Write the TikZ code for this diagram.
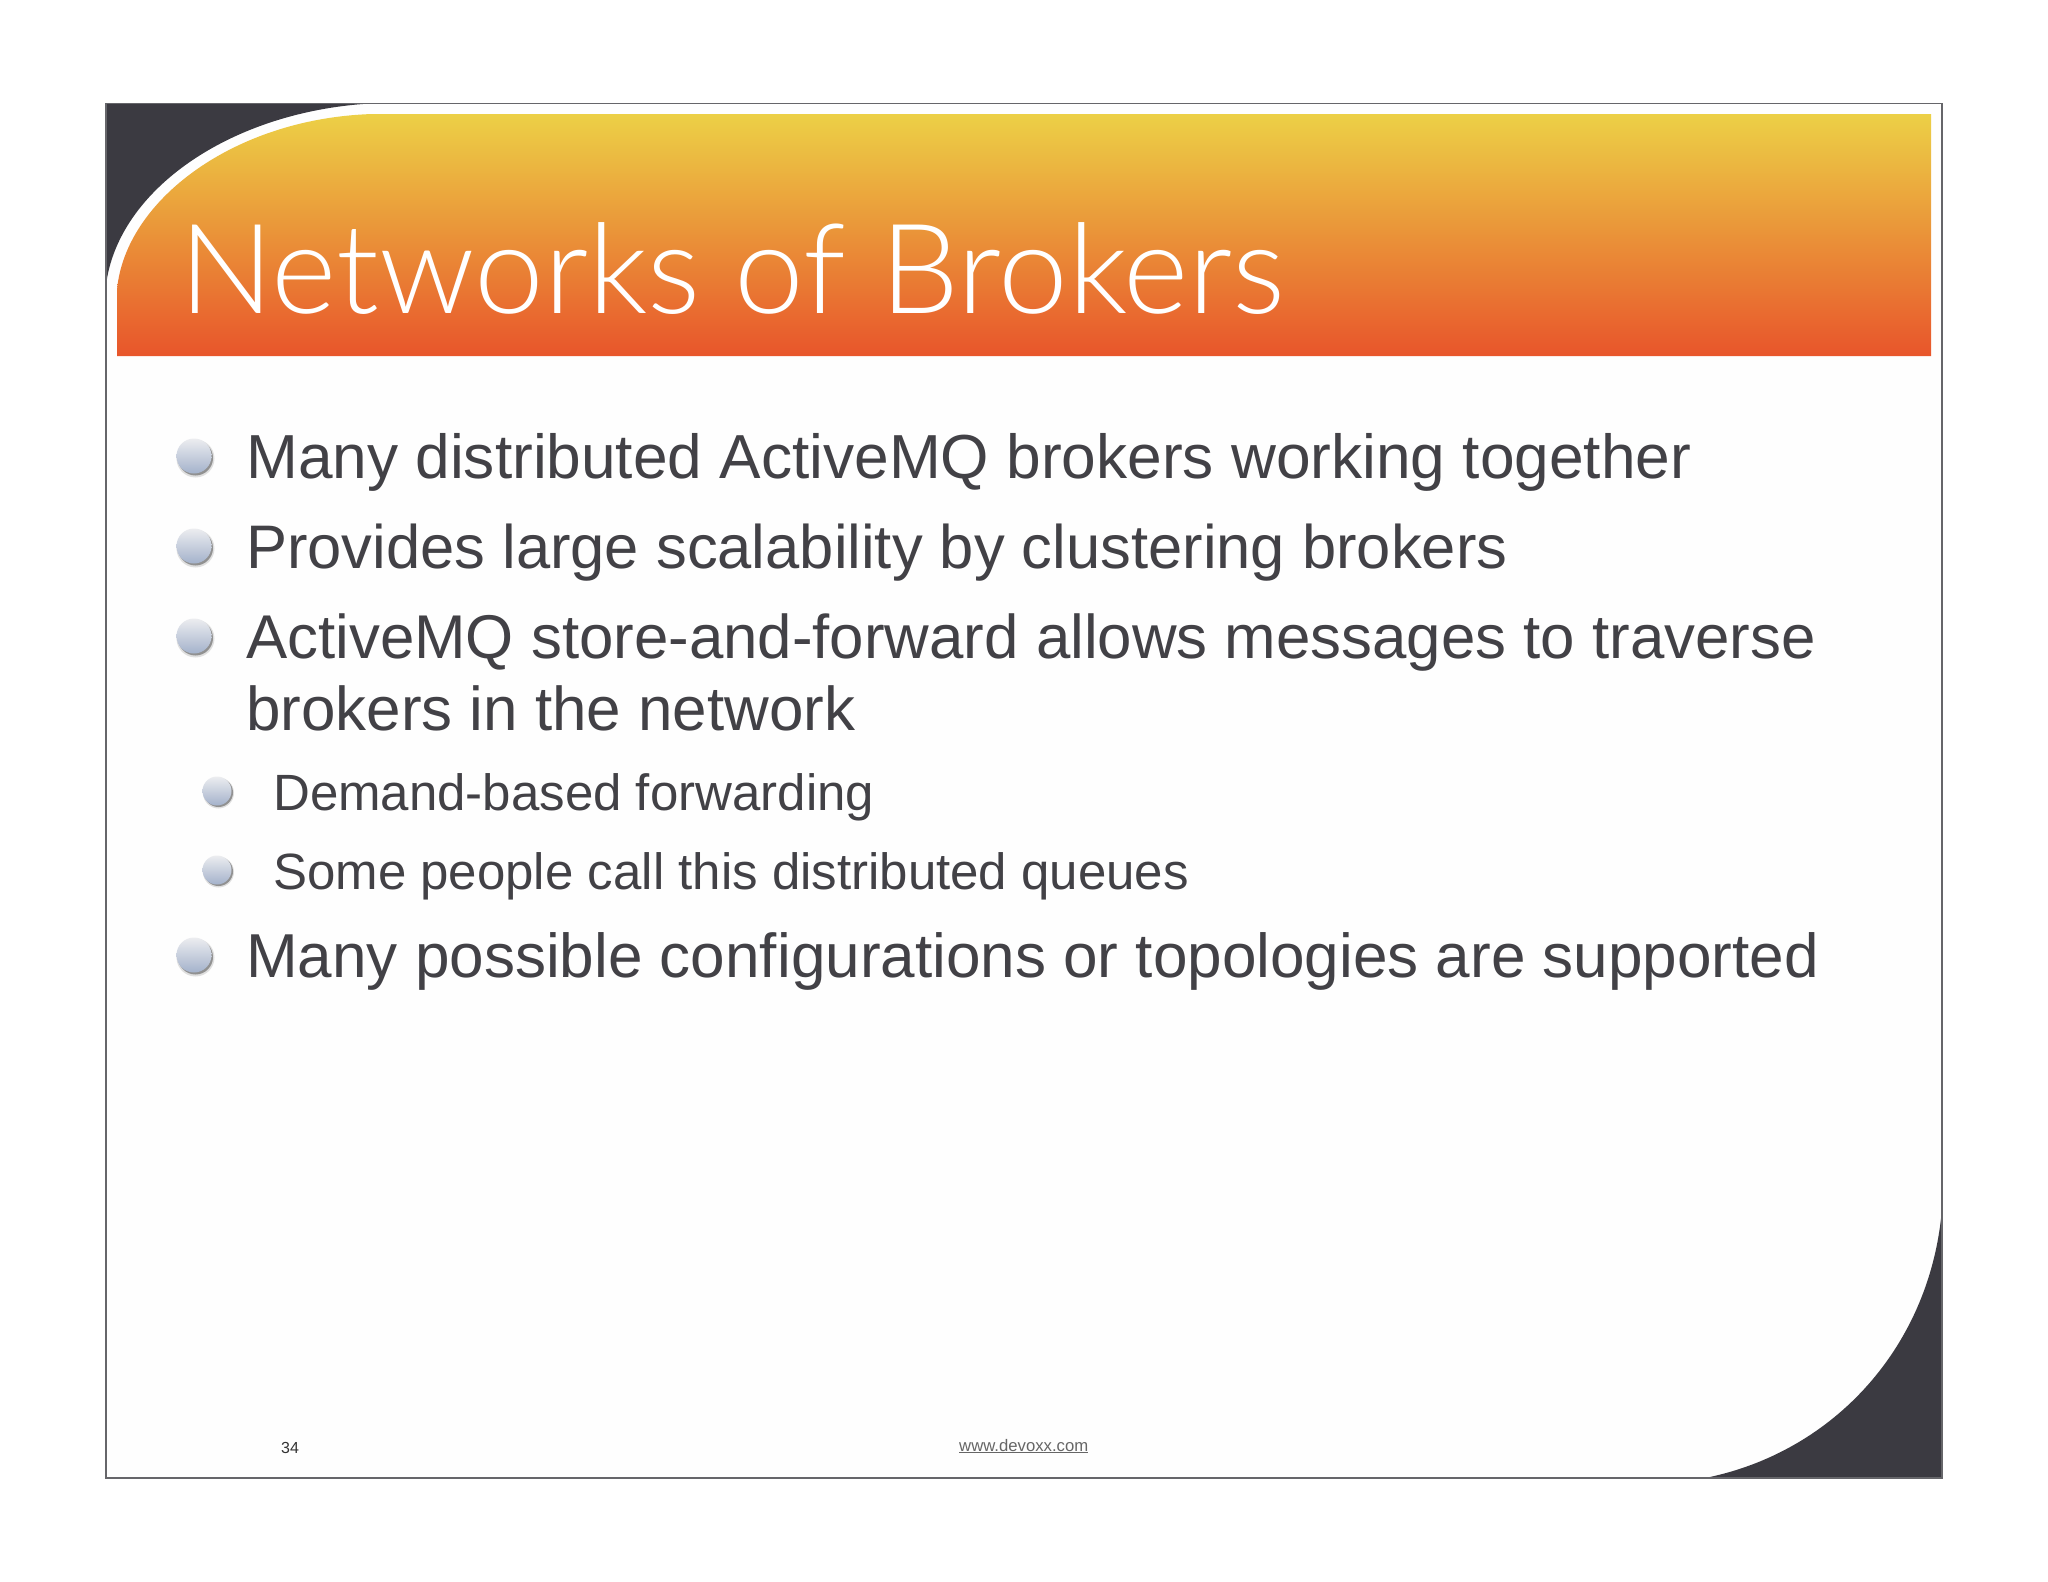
\documentclass[tikz,border=0pt]{standalone}
\usepackage{fontspec}
\setmainfont{Liberation Sans}
\newfontfamily\titlefont{Lato Light}
\usetikzlibrary{calc}
\definecolor{pagebg}{HTML}{FEFEFE}
\definecolor{corner}{HTML}{3B3A41}
\definecolor{framec}{HTML}{66666A}
\definecolor{bodyc}{HTML}{424146}
\definecolor{gradtop}{HTML}{ECD046}
\definecolor{gradmid}{HTML}{E9963C}
\definecolor{gradbot}{HTML}{E8552B}
\definecolor{balltop}{HTML}{ECEDF0}
\definecolor{ballbot}{HTML}{A4B2CB}
\tikzset{
  x=1pt,y=-1pt,
  mainitem/.style={anchor=base west,inner sep=0pt,text=bodyc,font=\fontsize{#1}{62}\selectfont},
  mainitem/.default=62,
  subitem/.style={anchor=base west,inner sep=0pt,text=bodyc,font=\fontsize{51}{51}\selectfont},
  ballshadow/.style={fill=black,draw=none},
  ball/.style={top color=balltop,bottom color=ballbot,draw=none},
}
\newcommand{\bigball}[2]{%
  \fill[ballshadow,opacity=.12] (#1+1.5,#2+2.5) circle[radius=19];
  \fill[ballshadow,opacity=.35] (#1+1.5,#2+2) circle[radius=17.5];
  \shade[ball] (#1,#2) circle[radius=17.5];}
\newcommand{\smallball}[2]{%
  \fill[ballshadow,opacity=.12] (#1+1.5,#2+2) circle[radius=15.5];
  \fill[ballshadow,opacity=.35] (#1+1.5,#2+1.5) circle[radius=14.5];
  \shade[ball] (#1,#2) circle[radius=14.5];}
\begin{document}
\begin{tikzpicture}
\useasboundingbox (0,0) rectangle (2048,1582);
\fill[white] (0,0) rectangle (2048,1582);
\fill[pagebg] (106,103.5) rectangle (1942,1478);
% corners
\fill[corner] (106,103.5) -- (370,103.5) .. controls (230,112) and (118,190) .. (106,285) -- cycle;
\fill[corner] (1942,1478) -- (1705,1478) .. controls (1835,1452) and (1931,1345) .. (1942,1208) -- cycle;
\draw[framec,line width=1.1pt] (106,103.5) rectangle (1942,1478);
% header
\shade[top color=gradtop,middle color=gradmid,bottom color=gradbot]
  (117,356) -- (117,290) .. controls (125,200) and (235,118) .. (373,114) -- (1931,114) -- (1931,356) -- cycle;
\node[anchor=base west,inner sep=0pt,text=white,font=\titlefont\fontsize{125}{126}\selectfont] (title) at (179,313) {Networks of Brokers};
% bullets
\bigball{194}{456}
\bigball{194}{546}
\bigball{194}{636}
\smallball{217}{791}
\smallball{217}{870}
\bigball{194}{955}
\node[mainitem=62.2] (l1) at (246,478.5) {Many distributed ActiveMQ brokers working together};
\node[mainitem=61.5] (l2) at (246,568.5) {Provides large scalability by clustering brokers};
\node[mainitem=61.8] (l3) at (246,658.5) {ActiveMQ store-and-forward allows messages to traverse};
\node[mainitem=61.9] (l3b) at (246,730.5) {brokers in the network};
\node[subitem] (s1) at (273,810) {Demand-based forwarding};
\node[subitem] (s2) at (273,889) {Some people call this distributed queues};
\node[mainitem=62.05] (l4) at (246,977) {Many possible configurations or topologies are supported};
\node[anchor=base west,inner sep=0pt,text=black!80,font=\fontsize{16}{16}\selectfont] (num) at (281,1453) {34};
\node[anchor=base west,inner sep=0pt,text=black!60,font=\fontsize{16.7}{16}\selectfont] (url) at (959,1451) {\underline{www.devoxx.com}};
\end{tikzpicture}
\end{document}
